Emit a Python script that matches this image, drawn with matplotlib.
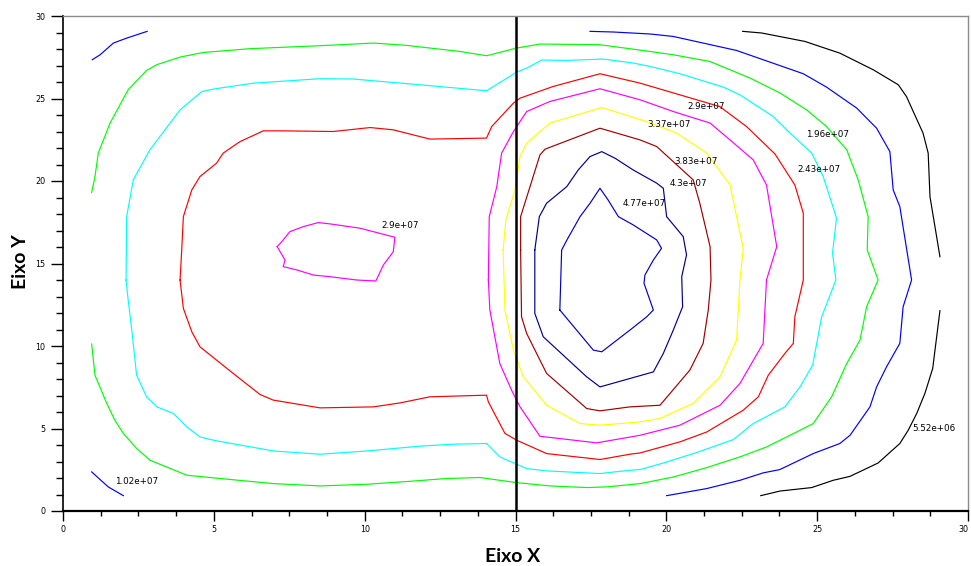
import matplotlib
matplotlib.use("Agg")
import matplotlib.pyplot as plt
from matplotlib.ticker import MultipleLocator

# ---- contour polylines (x, y in axis units) ----
black_top_x = [22.53, 23.16, 24.59, 25.75, 26.86, 27.69, 27.96, 28.51, 28.68, 28.74, 29.07]
black_top_y = [29.07, 28.97, 28.46, 27.75, 26.74, 25.83, 25.12, 22.90, 21.69, 19.05, 15.41]

black_bot_x = [29.07, 28.83, 28.57, 28.30, 28.02, 27.74, 27.02, 26.09, 25.53, 24.82, 23.77, 23.13]
black_bot_y = [12.14, 8.64, 7.12, 5.91, 4.90, 4.09, 2.91, 2.10, 1.86, 1.42, 1.21, 0.93]

blue_right_x = [17.47, 18.24, 19.46, 20.23, 22.33, 24.54, 25.31, 26.31, 26.97, 27.41, 27.52, 27.74,
                28.13, 27.85, 27.74, 27.30, 26.97, 26.75, 26.09, 25.75, 24.87, 23.76, 23.21, 22.44,
                21.34, 20.01]
blue_right_y = [29.07, 29.03, 28.91, 28.76, 27.91, 26.50, 25.69, 24.42, 23.20, 21.78, 19.46, 18.45,
                14.00, 12.38, 10.16, 8.74, 7.52, 6.31, 4.59, 4.09, 3.48, 2.51, 2.31, 1.86,
                1.36, 0.93]

blue_topleft_x = [0.97, 1.23, 1.67, 2.11, 2.79]
blue_topleft_y = [27.35, 27.65, 28.36, 28.66, 29.07]

blue_botleft_x = [0.95, 1.50, 2.00]
blue_botleft_y = [2.37, 1.46, 0.93]

green_x = [0.95, 1.06, 1.17, 1.56, 2.16, 2.77, 3.11, 3.88, 4.65, 6.20, 8.52, 10.29, 11.39, 13.16,
           14.04, 15.04, 15.81, 17.80, 19.46, 20.23, 21.45, 22.77, 23.77, 24.65, 25.31, 25.98,
           26.36, 26.69, 26.66, 27.02, 26.64, 26.42, 25.98, 25.48, 24.87, 24.32, 23.32, 22.44,
           21.34, 20.23, 19.13, 18.02, 17.36, 16.14, 15.04, 14.48, 13.82, 12.72, 11.50, 10.07,
           8.52, 6.97, 5.20, 4.10, 2.88, 2.44, 2.00, 1.72, 1.45, 1.06, 0.95]
green_y = [19.30, 20.27, 21.69, 23.51, 25.53, 26.70, 27.05, 27.51, 27.79, 28.02, 28.20, 28.36, 28.22,
           27.85, 27.59, 28.06, 28.30, 28.26, 27.85, 27.65, 27.24, 26.24, 25.33, 24.31, 23.30,
           21.89, 20.07, 17.84, 15.82, 14.00, 12.38, 10.36, 8.94, 6.92, 5.30, 4.79, 3.88, 3.28,
           2.63, 2.06, 1.66, 1.46, 1.42, 1.52, 1.72, 1.86, 2.03, 1.97, 1.80, 1.62, 1.52, 1.66,
           1.97, 2.17, 3.08, 3.79, 4.70, 5.50, 6.52, 8.23, 10.12]

cyan_x = [2.09, 2.11, 2.33, 2.88, 3.88, 4.60, 4.98, 6.31, 8.52, 9.62, 11.83, 14.04, 15.04, 15.37,
          15.87, 16.70, 17.91, 18.90, 19.46, 20.45, 21.89, 22.44, 23.54, 24.10, 24.82, 25.20,
          25.59, 25.64, 25.51, 25.62, 25.15, 24.85, 24.43, 23.93, 22.88, 22.22, 21.00, 19.90,
          19.13, 18.79, 17.80, 16.03, 15.37, 14.48, 14.04, 12.94, 11.83, 10.07, 8.52, 6.97,
          4.98, 4.54, 4.10, 3.66, 3.11, 2.77, 2.44, 2.28, 2.16, 2.09]
cyan_y = [13.99, 17.84, 20.07, 21.89, 24.31, 25.42, 25.57, 25.93, 26.20, 26.18, 25.83, 25.47, 26.60,
          26.84, 27.33, 27.31, 27.39, 27.15, 26.94, 26.50, 25.69, 25.22, 23.91, 22.90, 21.69,
          20.27, 18.05, 17.74, 15.62, 14.00, 11.77, 8.84, 7.52, 6.31, 5.30, 4.33, 3.54, 2.91,
          2.51, 2.47, 2.27, 2.43, 2.57, 3.28, 4.09, 4.05, 3.93, 3.64, 3.44, 3.64, 4.29, 4.49,
          5.10, 5.91, 6.31, 6.92, 8.23, 10.96, 12.79, 13.99]

red_x = [3.88, 3.93, 3.99, 4.27, 4.54, 5.09, 5.31, 5.87, 6.64, 7.25, 8.96, 10.18, 10.95, 12.16,
         14.04, 14.21, 14.93, 15.15, 16.25, 17.80, 19.13, 21.77, 22.66, 23.60, 24.26, 24.54,
         24.54, 24.26, 24.21, 23.93, 23.38, 23.05, 22.55, 21.34, 20.45, 19.13, 18.79, 17.80,
         16.03, 15.04, 14.65, 14.10, 14.04, 12.16, 11.17, 10.29, 8.52, 6.97, 6.53, 5.64, 4.54,
         4.27, 3.99, 3.88]
red_y = [14.00, 15.62, 17.84, 19.46, 20.27, 21.08, 21.69, 22.39, 23.04, 23.04, 23.00, 23.24, 23.10,
         22.54, 22.60, 23.30, 24.72, 25.02, 25.73, 26.50, 25.93, 24.51, 23.30, 21.64, 19.76,
         18.05, 14.00, 11.77, 10.16, 9.55, 8.23, 6.92, 6.11, 4.79, 4.19, 3.52, 3.44, 3.12,
         3.48, 4.29, 4.70, 6.61, 7.02, 6.92, 6.55, 6.31, 6.25, 6.72, 7.06, 8.34, 9.95, 10.86,
         12.28, 14.00]

magenta_x = [14.10, 14.13, 14.38, 14.54, 14.87, 15.04, 15.37, 16.14, 17.80, 19.13, 20.23, 21.45,
             22.11, 22.88, 23.32, 23.66, 23.32, 23.21, 22.44, 21.78, 20.45, 19.13, 17.69, 15.81,
             15.15, 14.87, 14.48, 14.15, 14.10]
magenta_y = [14.00, 17.84, 19.66, 21.69, 22.80, 23.30, 24.21, 24.82, 25.59, 24.92, 24.21, 23.51,
             22.49, 21.28, 19.76, 16.02, 14.00, 10.16, 7.73, 6.41, 5.20, 4.59, 4.13, 4.53,
             6.31, 7.32, 8.94, 12.18, 14.00]

magenta_left_x = [7.10, 7.25, 7.52, 7.96, 8.46, 8.85, 9.84, 11.00, 10.95, 10.62, 10.37, 9.73, 8.85,
                  8.30, 7.75, 7.30, 7.36, 7.10]
magenta_left_y = [16.02, 16.32, 16.93, 17.23, 17.48, 17.40, 17.14, 16.59, 15.72, 14.91, 13.94,
                  14.00, 14.20, 14.30, 14.61, 14.81, 15.21, 16.02]

yellow_x = [14.59, 14.68, 14.98, 15.15, 15.37, 16.14, 17.86, 19.35, 20.34, 21.34, 22.11, 22.33,
            22.55, 22.44, 22.33, 21.78, 20.89, 19.79, 19.13, 17.80, 17.14, 16.03, 15.26, 14.93,
            14.65, 14.59]
yellow_y = [15.82, 17.63, 19.45, 21.48, 22.29, 23.51, 24.45, 23.60, 22.90, 21.69, 19.76, 17.84,
            15.92, 14.00, 10.36, 8.13, 6.52, 5.61, 5.40, 5.20, 5.30, 6.41, 8.13, 9.75,
            12.18, 15.82]

brown_x = [15.17, 15.17, 15.81, 15.98, 17.80, 19.13, 19.68, 20.89, 21.11, 21.45, 21.48, 21.39,
           21.22, 20.78, 19.79, 18.79, 17.80, 17.36, 16.03, 15.37, 15.20, 15.17]
brown_y = [15.82, 17.84, 21.58, 21.93, 23.20, 22.49, 22.09, 20.07, 18.65, 16.02, 14.00, 12.18,
           10.16, 8.54, 6.41, 6.31, 6.07, 6.21, 8.34, 10.76, 11.77, 15.82]

navy_x = [15.64, 15.79, 16.03, 16.70, 17.08, 17.47, 17.86, 18.30, 18.90, 19.68, 19.90, 20.01,
          20.56, 20.67, 20.51, 20.54, 20.23, 19.90, 19.57, 17.80, 17.36, 15.92, 15.64, 15.64]
navy_y = [15.82, 17.84, 18.65, 19.66, 20.67, 21.48, 21.78, 21.38, 20.67, 19.87, 19.56, 17.84,
          16.63, 15.52, 14.20, 12.38, 10.96, 9.55, 8.43, 7.52, 8.13, 10.56, 11.98, 15.82]

inner_x = [16.47, 16.53, 16.70, 17.14, 17.47, 17.80, 18.07, 18.41, 18.90, 19.68, 19.84, 19.57,
           19.29, 19.26, 19.57, 19.35, 18.79, 17.86, 17.58, 16.47]
inner_y = [12.18, 15.82, 16.41, 17.84, 18.65, 19.56, 18.85, 17.84, 17.34, 16.43, 15.92, 15.21,
           14.30, 13.80, 12.18, 11.77, 10.96, 9.65, 9.75, 12.18]

# ---- level labels ----
label_text = ["5.52e+06", "1.02e+07", "2.9e+07", "2.9e+07", "3.37e+07", "3.83e+07",
              "4.3e+07", "4.77e+07", "1.96e+07", "2.43e+07"]
label_x = [28.14, 1.72, 10.56, 20.69, 19.38, 20.28, 20.12, 18.55, 24.62, 24.35]
label_y = [5.02, 1.76, 17.28, 24.50, 23.40, 21.18, 19.87, 18.65, 22.82, 20.72]

section_x = 15.0

x_ticks = [0, 5, 10, 15, 20, 25, 30]
y_ticks = [0, 5, 10, 15, 20, 25, 30]

# ---- figure ----
W, H = 971, 566
fig = plt.figure(figsize=(W / 100, H / 100), dpi=100)
ax = fig.add_axes([63 / W, (H - 511) / H, (968 - 63) / W, (511 - 16) / H])

lw = 0.85
curves = [
    (black_top_x, black_top_y, "#000000"),
    (black_bot_x, black_bot_y, "#000000"),
    (blue_right_x, blue_right_y, "#0000ff"),
    (blue_topleft_x, blue_topleft_y, "#0000ff"),
    (blue_botleft_x, blue_botleft_y, "#0000ff"),
    (green_x, green_y, "#00ff00"),
    (cyan_x, cyan_y, "#00ffff"),
    (red_x, red_y, "#ff0000"),
    (magenta_x, magenta_y, "#ff00ff"),
    (magenta_left_x, magenta_left_y, "#ff00ff"),
    (yellow_x, yellow_y, "#ffff00"),
    (brown_x, brown_y, "#a00000"),
    (navy_x, navy_y, "#00008c"),
    (inner_x, inner_y, "#0000c8"),
]
for xs, ys, c in curves:
    ax.plot(xs, ys, color=c, lw=lw, solid_joinstyle="round")

for t, x, y in zip(label_text, label_x, label_y):
    ax.text(x, y, t, fontsize=6.3, ha="left", va="center", color="black",
            family="DejaVu Sans")

ax.axvline(section_x, color="black", lw=1.8)

ax.set_xlim(0, 30)
ax.set_ylim(0, 30)
ax.set_xticks(x_ticks)
ax.set_yticks(y_ticks)
ax.xaxis.set_minor_locator(MultipleLocator(1.25))
ax.yaxis.set_minor_locator(MultipleLocator(1.0))

ax.tick_params(axis="y", which="major", direction="out", length=8.6, width=1.0,
               labelsize=5.8, pad=4, color="black")
ax.tick_params(axis="y", which="minor", direction="out", length=5.0, width=1.0, color="black")
ax.tick_params(axis="x", which="major", direction="out", length=7.2, width=1.0,
               labelsize=5.8, pad=3, color="black")
ax.tick_params(axis="x", which="minor", direction="out", length=3.6, width=1.0, color="black")

# keep the last x tick label inside the figure edge
fig.canvas.draw()
xlabels = ax.get_xticklabels()
xlabels[-1].set_horizontalalignment("right")

for side in ("top", "right"):
    ax.spines[side].set_color("#8a8a8a")
    ax.spines[side].set_linewidth(1.0)
ax.spines["left"].set_color("black")
ax.spines["left"].set_linewidth(1.2)
ax.spines["bottom"].set_color("black")
ax.spines["bottom"].set_linewidth(1.6)

fig.text(512.8 / W, 1 - 556 / H, "Eixo X", fontsize=14, fontweight="bold",
         family="Lato", ha="center", va="center")
fig.text(20 / W, 1 - 262 / H, "Eixo Y", fontsize=14, fontweight="bold",
         family="Lato", ha="center", va="center", rotation=90)

fig.savefig("out.png", dpi=100)
